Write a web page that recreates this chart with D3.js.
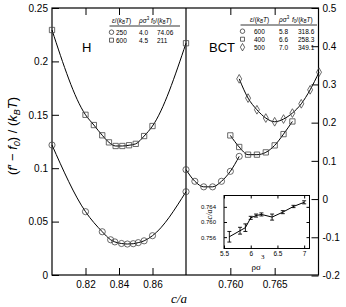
<!DOCTYPE html>
<html>
<head>
<meta charset="utf-8">
<script src="https://cdn.jsdelivr.net/npm/d3@7"></script>
<style>
body { margin: 0; background: #fff; }
svg { font-family: "Liberation Sans", Arial, sans-serif; }
</style>
</head>
<body>
<svg id="chart" width="346" height="307"></svg>
<script>
// H phase (left panel, left axis)
const hCaA = [0.80, 0.82, 0.83, 0.835, 0.8375, 0.8415, 0.845, 0.8485, 0.8515, 0.855, 0.86, 0.88];
const hFA = [0.1217, 0.0593, 0.0405, 0.033, 0.031, 0.0295, 0.029, 0.0293, 0.0303, 0.032, 0.0368, 0.078];
const hCaB = [0.80, 0.82, 0.825, 0.83, 0.834, 0.838, 0.842, 0.846, 0.85, 0.855, 0.86, 0.88];
const hFB = [0.2294, 0.150, 0.1404, 0.1308, 0.1242, 0.1208, 0.1208, 0.1215, 0.1228, 0.1301, 0.1395, 0.217];
// BCT phase (right panel, right axis)
const bCaA = [0.755, 0.756, 0.757, 0.758, 0.759, 0.760, 0.761];
const bFA = [0.077, 0.0465, 0.032, 0.032, 0.0465, 0.0726, 0.1117];
const bCaB = [0.760, 0.761, 0.762, 0.763, 0.764, 0.765, 0.766, 0.767];
const bFB = [0.1666, 0.1363, 0.1162, 0.1162, 0.1222, 0.1405, 0.170, 0.2031];
const bCaC = [0.761, 0.762, 0.763, 0.764, 0.765, 0.766, 0.767, 0.768, 0.769, 0.770];
const bFC = [0.3146, 0.2642, 0.2337, 0.212, 0.2023, 0.2094, 0.225, 0.2493, 0.2859, 0.332];
// inset: c/a vs density
const insRho = [5.6, 5.8, 5.9, 6.0, 6.1, 6.2, 6.4, 6.6, 6.8, 7.0];
const insCa = [0.7561, 0.7577, 0.7585, 0.7611, 0.7617, 0.7620, 0.7613, 0.7626, 0.7641, 0.7652];
const insErr = [0.0014, 0.0009, 0.0010, 0.0004, 0.0004, 0.0004, 0.0008, 0.0004, 0.0003, 0.0004];
// legends
const hLegend = [["circle", "250", "4.0", "74.06"], ["square", "600", "4.5", "211"]];
const bLegend = [["circle", "600", "5.8", "318.6"], ["square", "400", "6.6", "258.3"], ["diamond", "500", "7.0", "349.1"]];
// ticks
const leftTicks = [0, 0.05, 0.1, 0.15, 0.2, 0.25];
const rightTicks = [-0.2, -0.1, 0, 0.1, 0.2, 0.3, 0.4, 0.5];
const hXTicks = [0.82, 0.84, 0.86];
const bXTicks = [0.760, 0.765];
const insXTicks = [5.5, 6, 6.5, 7];
const insYTicks = [0.756, 0.760, 0.764];

const svg = d3.select("#chart");
const top0 = 8, bot0 = 275, left0 = 52, mid0 = 186, right0 = 318.5;

const xL = d3.scaleLinear().domain([0.80, 0.88]).range([left0, mid0]);
const yL = d3.scaleLinear().domain([0, 0.25]).range([bot0, top0]);
const xR = d3.scaleLinear().domain([0.755, 0.770]).range([mid0, right0 + 0.5]);
const yR = d3.scaleLinear().domain([-0.2, 0.5]).range([bot0 + 0.5, top0]);

const symbols = { circle: d3.symbolCircle, square: d3.symbolSquare, diamond: d3.symbolDiamond };
const symSize = { circle: 30, square: 28, diamond: 22 };

function styleAxis(g, fs) {
    g.select(".domain").remove();
    g.selectAll(".tick line").attr("stroke", "#000").attr("stroke-width", 1);
    g.selectAll(".tick text").attr("fill", "#000").style("font-size", fs + "px")
        .style("font-family", "'Liberation Sans', Arial, sans-serif");
}

// axes
svg.append("g").attr("transform", "translate(" + left0 + ",0)")
    .call(d3.axisLeft(yL).tickValues(leftTicks).tickSize(-7).tickPadding(4).tickFormat(d => String(d)))
    .call(g => styleAxis(g, 10));
svg.append("g").attr("transform", "translate(" + right0 + ",0)")
    .call(d3.axisRight(yR).tickValues(rightTicks).tickSize(-7).tickPadding(4).tickFormat(d => String(d)))
    .call(g => styleAxis(g, 10));
svg.append("g").attr("transform", "translate(0," + bot0 + ")")
    .call(d3.axisBottom(xL).tickValues(hXTicks).tickSize(-7).tickPadding(6).tickFormat(d3.format(".2f")))
    .call(g => styleAxis(g, 10));
svg.append("g").attr("transform", "translate(0," + bot0 + ")")
    .call(d3.axisBottom(xR).tickValues(bXTicks).tickSize(-7).tickPadding(6).tickFormat(d3.format(".3f")))
    .call(g => styleAxis(g, 10));
svg.append("g").attr("transform", "translate(0," + top0 + ")")
    .call(d3.axisTop(xL).tickValues(hXTicks).tickSize(-7).tickFormat(() => ""))
    .call(g => styleAxis(g, 10));
svg.append("g").attr("transform", "translate(0," + top0 + ")")
    .call(d3.axisTop(xR).tickValues(bXTicks).tickSize(-7).tickFormat(() => ""))
    .call(g => styleAxis(g, 10));

// frame
svg.append("rect").attr("x", left0).attr("y", top0).attr("width", right0 - left0).attr("height", bot0 - top0)
    .attr("fill", "none").attr("stroke", "#000").attr("stroke-width", 1.2);
svg.append("line").attr("x1", mid0).attr("x2", mid0).attr("y1", top0).attr("y2", bot0)
    .attr("stroke", "#000").attr("stroke-width", 1.2);

// curves
function drawSeries(xs, ys, xScale, yScale, shape) {
    const pts = xs.map((x, i) => [xScale(x), yScale(ys[i])]);
    svg.append("path").datum(pts).attr("fill", "none").attr("stroke", "#000").attr("stroke-width", 1)
        .attr("d", d3.line().curve(d3.curveMonotoneX));
    svg.append("g").selectAll("path").data(pts).join("path")
        .attr("transform", d => "translate(" + d[0] + "," + d[1] + ")")
        .attr("d", d3.symbol(symbols[shape], symSize[shape]))
        .attr("fill", "none").attr("stroke", "#444").attr("stroke-width", 0.8);
}
drawSeries(hCaA, hFA, xL, yL, "circle");
drawSeries(hCaB, hFB, xL, yL, "square");
drawSeries(bCaA, bFA, xR, yR, "circle");
drawSeries(bCaB, bFB, xR, yR, "square");
drawSeries(bCaC, bFC, xR, yR, "diamond");

// phase labels
svg.append("text").attr("x", 82).attr("y", 52).style("font-size", "13px").text("H");
svg.append("text").attr("x", 209).attr("y", 52).style("font-size", "13px").text("BCT");

// legend tables
function legend(rows, x0, yHead, cols, lineEnd) {
    const g = svg.append("g").style("font-size", "6.5px");
    const h = g.append("text").attr("y", yHead);
    h.append("tspan").attr("x", cols[0]).style("font-style", "italic").text("ε");
    h.append("tspan").text("/(");
    h.append("tspan").style("font-style", "italic").text("k");
    h.append("tspan").attr("dy", 1.5).style("font-size", "4.5px").style("font-style", "italic").text("B");
    h.append("tspan").attr("dy", -1.5).style("font-style", "italic").text("T");
    h.append("tspan").text(")");
    const r = g.append("text").attr("y", yHead);
    r.append("tspan").attr("x", cols[1]).style("font-style", "italic").text("ρσ");
    r.append("tspan").attr("dy", -3).style("font-size", "4.5px").text("3");
    const f = g.append("text").attr("y", yHead);
    f.append("tspan").attr("x", cols[2]).style("font-style", "italic").text("f");
    f.append("tspan").attr("dy", 1.5).style("font-size", "4.5px").text("0");
    f.append("tspan").attr("dy", -1.5).text("/(");
    f.append("tspan").style("font-style", "italic").text("k");
    f.append("tspan").attr("dy", 1.5).style("font-size", "4.5px").style("font-style", "italic").text("B");
    f.append("tspan").attr("dy", -1.5).style("font-style", "italic").text("T");
    f.append("tspan").text(")");
    g.append("line").attr("x1", x0 - 2).attr("x2", lineEnd).attr("y1", yHead + 3.5).attr("y2", yHead + 3.5)
        .attr("stroke", "#000").attr("stroke-width", 0.8);
    rows.forEach((row, i) => {
        const y = yHead + 12 + i * 8;
        g.append("path").attr("transform", "translate(" + x0 + "," + (y - 2.3) + ")")
            .attr("d", d3.symbol(symbols[row[0]], 16)).attr("fill", "none").attr("stroke", "#222").attr("stroke-width", 0.7);
        g.append("text").attr("x", cols[0] + 4).attr("y", y).text(row[1]);
        g.append("text").attr("x", cols[1]).attr("y", y).text(row[2]);
        g.append("text").attr("x", cols[2] + 6).attr("y", y).text(row[3]);
    });
}
legend(hLegend, 111.5, 22.5, [112, 139, 151], 180);
legend(bLegend, 242.5, 21.5, [250, 279, 292], 317);

// axis titles
const yt = svg.append("text").attr("transform", "translate(17,136) rotate(-90)")
    .attr("text-anchor", "middle").style("font-size", "13px");
yt.append("tspan").text("(");
yt.append("tspan").style("font-style", "italic").text("f′");
yt.append("tspan").text(" − ");
yt.append("tspan").style("font-style", "italic").text("f");
yt.append("tspan").attr("dy", 3).style("font-size", "9px").style("font-style", "italic").text("0");
yt.append("tspan").attr("dy", -3).text(") / (");
yt.append("tspan").style("font-style", "italic").text("k");
yt.append("tspan").attr("dy", 3).style("font-size", "9px").style("font-style", "italic").text("B");
yt.append("tspan").attr("dy", -3).style("font-style", "italic").text("T");
yt.append("tspan").text(")");

svg.append("text").attr("x", 179).attr("y", 303).attr("text-anchor", "middle")
    .style("font-size", "13px").style("font-style", "italic").style("font-family", "'Liberation Serif', serif")
    .text("c/a");

// inset
const iL = 224, iR = 309.5, iT = 195.5, iB = 248.5;
const xI = d3.scaleLinear().domain([5.5, 7.1]).range([iL, iR]);
const yI = d3.scaleLinear().domain([0.753, 0.767]).range([iB, iT]);
svg.append("rect").attr("x", iL).attr("y", iT).attr("width", iR - iL).attr("height", iB - iT)
    .attr("fill", "#fff").attr("stroke", "#000").attr("stroke-width", 1);
svg.append("g").attr("transform", "translate(0," + iB + ")")
    .call(d3.axisBottom(xI).tickValues(insXTicks).tickSize(-3).tickPadding(3).tickFormat(d => String(d)))
    .call(g => styleAxis(g, 6.5));
svg.append("g").attr("transform", "translate(0," + iT + ")")
    .call(d3.axisTop(xI).tickValues(insXTicks).tickSize(-3).tickFormat(() => ""))
    .call(g => styleAxis(g, 6.5));
svg.append("g").attr("transform", "translate(" + iL + ",0)")
    .call(d3.axisLeft(yI).tickValues(insYTicks).tickSize(-3).tickPadding(8).tickFormat(d3.format(".3f")))
    .call(g => styleAxis(g, 6));
svg.append("g").attr("transform", "translate(" + iR + ",0)")
    .call(d3.axisRight(yI).tickValues(insYTicks).tickSize(-3).tickFormat(() => ""))
    .call(g => styleAxis(g, 6));

const insPts = insRho.map((r, i) => ({ x: xI(r), y: yI(insCa[i]), lo: yI(insCa[i] - insErr[i]), hi: yI(insCa[i] + insErr[i]) }));
svg.append("path").datum(insPts).attr("fill", "none").attr("stroke", "#000").attr("stroke-width", 1)
    .attr("d", d3.line().x(d => d.x).y(d => d.y));
const eb = svg.append("g").attr("stroke", "#000").attr("stroke-width", 0.9);
insPts.forEach(d => {
    eb.append("line").attr("x1", d.x).attr("x2", d.x).attr("y1", d.lo).attr("y2", d.hi);
    eb.append("line").attr("x1", d.x - 2).attr("x2", d.x + 2).attr("y1", d.lo).attr("y2", d.lo);
    eb.append("line").attr("x1", d.x - 2).attr("x2", d.x + 2).attr("y1", d.hi).attr("y2", d.hi);
});
svg.append("text").attr("transform", "translate(212,214.5) rotate(-90)").attr("text-anchor", "middle")
    .style("font-size", "8px").style("font-style", "italic").style("font-family", "'Liberation Serif', serif").text("c/a");
const rl = svg.append("text").attr("x", 258).attr("y", 270).attr("text-anchor", "middle")
    .style("font-size", "9px").style("font-family", "'Liberation Serif', serif");
rl.append("tspan").text("ρσ");
rl.append("tspan").attr("dy", -11).style("font-size", "7px").text("3");
</script>
</body>
</html>
